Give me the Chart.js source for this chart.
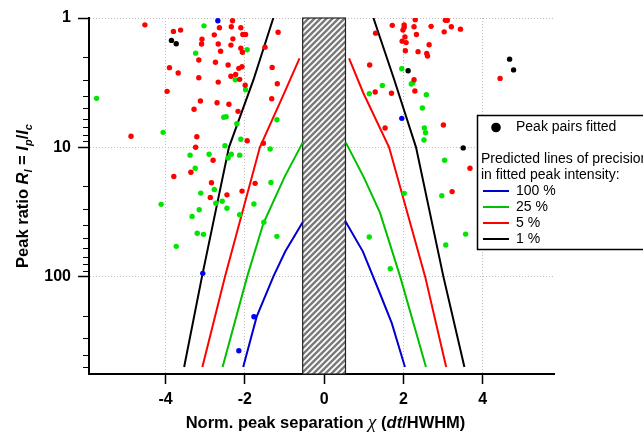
<!DOCTYPE html>
<html>
<head>
<meta charset="utf-8">
<script src="https://cdn.jsdelivr.net/npm/chart.js@4.4.1/dist/chart.umd.min.js"></script>
<style>
  html, body { margin: 0; padding: 0; background: #fff; }
  #wrap { width: 643px; height: 433px; position: relative; }
</style>
</head>
<body>
<div id="wrap"><canvas id="chart"></canvas></div>
<script>
// axis ticks
const xTicks = [-4, -2, 0, 2, 4];
const yTicks = [1, 10, 100];
const yMinorTicks = [2, 3, 4, 5, 6, 7, 8, 9, 20, 30, 40, 50, 60, 70, 80, 90, 200, 300, 400, 500];
const excludedBand = [-0.54, 0.54];

// fitted peak pairs, [chi, ratio]
const redPoints = [
  [-4.52, 1.13], [-4.87, 8.2], [-3.80, 1.27], [-3.62, 1.24], [-3.90, 2.42], [-3.68, 2.66], [-3.96, 3.69], [-3.79, 16.8],
  [-2.31, 1.05], [-2.64, 1.19], [-2.34, 1.17], [-2.10, 1.19], [-2.77, 1.35], [-2.05, 1.34], [-1.98, 1.34], [-3.08, 1.46],
  [-3.09, 1.59], [-2.67, 1.59], [-2.35, 1.62], [-2.30, 1.45], [-2.61, 1.81], [-2.10, 1.71], [-2.06, 1.84], [-1.16, 1.29],
  [-1.49, 1.68], [-3.16, 2.11], [-2.74, 2.20], [-2.42, 2.31], [-2.15, 2.45], [-2.07, 2.38], [-2.35, 2.82], [-2.23, 2.73],
  [-2.13, 2.98], [-3.16, 2.90], [-2.67, 3.13], [-1.99, 3.31], [-1.31, 2.41], [-1.18, 3.22], [-1.32, 4.21], [-3.12, 4.38],
  [-2.70, 4.52], [-2.40, 4.65], [-3.28, 5.08], [-2.17, 5.27], [-3.21, 8.28], [-1.94, 8.89], [-3.24, 10.0], [-1.53, 9.31],
  [-2.80, 12.6], [-3.36, 15.6], [-2.84, 18.8], [-2.07, 21.8], [-1.74, 19.0], [-2.87, 24.4], [-2.45, 23.3],
  [2.30, 1.03], [3.06, 1.04], [3.11, 1.04], [1.72, 1.14], [2.02, 1.13], [2.02, 1.18], [2.27, 1.17], [2.70, 1.16],
  [3.21, 1.17], [3.44, 1.22], [1.99, 1.24], [1.30, 1.31], [2.33, 1.34], [3.03, 1.28], [2.04, 1.40], [1.97, 1.51],
  [2.07, 1.55], [2.65, 1.61], [2.05, 1.79], [2.37, 1.82], [2.59, 1.88], [2.61, 1.97], [1.15, 2.31], [2.27, 3.00],
  [1.29, 3.73], [1.70, 3.82], [2.29, 3.67], [1.54, 7.09], [3.01, 6.72], [3.68, 14.5], [3.23, 22.0], [4.44, 2.93]
];
const greenPoints = [
  [-5.74, 4.18], [-4.06, 7.66], [-3.03, 1.15], [-3.24, 1.87], [-1.94, 1.76], [-2.24, 3.00], [-1.98, 3.59], [-2.53, 5.86],
  [-2.47, 5.80], [-2.20, 6.57], [-2.10, 8.67], [-1.19, 6.12], [-1.36, 10.3], [-1.34, 18.7], [-2.50, 9.72], [-3.38, 11.5],
  [-2.90, 11.3], [-2.42, 12.1], [-2.34, 11.3], [-2.13, 11.5], [-3.25, 14.5], [-2.77, 21.2], [-3.11, 22.6], [-2.73, 27.1],
  [-2.57, 26.1], [-2.45, 29.6], [-1.77, 27.4], [-4.11, 27.6], [-3.15, 30.4], [-3.33, 34.2], [-2.13, 33.2], [-1.52, 38.0],
  [-3.20, 46.2], [-3.04, 47.1], [-3.73, 58.3], [-1.19, 48.8],
  [1.96, 2.47], [1.47, 3.32], [2.20, 3.24], [2.24, 3.17], [1.14, 3.85], [2.58, 3.92], [2.48, 4.97], [2.53, 7.09],
  [2.56, 7.71], [2.52, 8.78], [3.04, 12.6], [2.97, 23.7], [2.02, 22.7], [1.14, 49.4], [1.67, 86.9], [3.07, 57.0], [3.57, 46.9]
];
const bluePoints = [[-2.68, 1.05], [-3.06, 94.3], [-1.77, 204], [-2.15, 374], [1.96, 5.97]];
const blackPoints = [[-3.85, 1.49], [-3.73, 1.58], [2.12, 2.56], [3.51, 10.1], [4.68, 2.08], [4.78, 2.52]];

// predicted precision lines, [chi, ratio]
const line100Left = [[-0.54, 38], [-0.98, 64], [-1.28, 100], [-1.70, 204], [-2.04, 500]];
const line100Right = [[0.53, 37], [0.98, 64], [1.41, 135], [1.71, 230], [2.04, 500]];
const line25Left = [[-0.54, 9.2], [-1.0, 17], [-1.53, 38.7], [-1.94, 100], [-2.56, 500]];
const line25Right = [[0.55, 9.2], [1.0, 17], [1.41, 32], [1.92, 100], [2.57, 500]];
const line5Left = [[-0.62, 2.05], [-1.02, 3.9], [-1.62, 10], [-2.50, 100], [-3.07, 500]];
const line5Right = [[0.63, 2.05], [0.99, 3.8], [1.64, 10], [2.55, 100], [3.08, 500]];
const line1Left = [[-1.28, 1], [-1.78, 3], [-2.40, 10], [-3.08, 100], [-3.53, 500]];
const line1Right = [[1.245, 1], [1.77, 3], [2.32, 10], [3.01, 100], [3.54, 500]];

const lineLabels = ['100 %', '25 %', '5 %', '1 %'];
const lineColors = ['#0000cc', '#00c000', '#ff0000', '#000000'];

const FONT = 'Arial, "Liberation Sans", sans-serif';
const toXY = arr => arr.map(p => ({ x: p[0], y: p[1] }));

function pointSet(pts, color) {
  return { data: toXY(pts), backgroundColor: color, borderWidth: 0, pointRadius: 2.7, showLine: false };
}
function lineSet(pts, color) {
  return { data: toXY(pts), borderColor: color, borderWidth: 2, pointRadius: 0, showLine: true, fill: false };
}

// hatch pattern for the excluded band
function hatchPattern(ctx) {
  const n = 6;
  const c = document.createElement('canvas');
  c.width = n; c.height = n;
  const g = c.getContext('2d');
  g.fillStyle = '#7a7a7a';
  g.fillRect(0, 0, n, n);
  g.strokeStyle = '#ffffff';
  g.lineWidth = 1.8;
  g.beginPath();
  g.moveTo(-1, n + 1); g.lineTo(n + 1, -1);
  g.moveTo(-1, 1); g.lineTo(1, -1);
  g.moveTo(n - 1, n + 1); g.lineTo(n + 1, n - 1);
  g.stroke();
  return ctx.createPattern(c, 'repeat');
}

const bandPlugin = {
  id: 'band',
  beforeDatasetsDraw(chart) {
    const { ctx, chartArea, scales } = chart;
    const x0 = scales.x.getPixelForValue(excludedBand[0]);
    const x1 = scales.x.getPixelForValue(excludedBand[1]);
    ctx.save();
    ctx.fillStyle = hatchPattern(ctx);
    ctx.fillRect(x0, chartArea.top, x1 - x0, chartArea.bottom - chartArea.top);
    ctx.strokeStyle = '#222';
    ctx.lineWidth = 1.2;
    ctx.strokeRect(x0, chartArea.top, x1 - x0, chartArea.bottom - chartArea.top);
    ctx.restore();
  }
};

function drawRuns(ctx, runs, cx, y) {
  let w = 0;
  runs.forEach(r => { ctx.font = r.font; w += ctx.measureText(r.t).width; });
  let x = cx - w / 2;
  runs.forEach(r => {
    ctx.font = r.font;
    ctx.fillText(r.t, x, y + (r.dy || 0));
    x += ctx.measureText(r.t).width;
  });
}

const decorPlugin = {
  id: 'decor',
  afterDraw(chart) {
    const { ctx, chartArea, scales } = chart;
    ctx.save();
    // minor ticks on the ratio axis
    ctx.strokeStyle = '#000';
    ctx.lineWidth = 1;
    ctx.beginPath();
    yMinorTicks.forEach(v => {
      const y = Math.round(scales.y.getPixelForValue(v)) + 0.5;
      ctx.moveTo(chartArea.left - 6, y);
      ctx.lineTo(chartArea.left, y);
    });
    ctx.stroke();

    // axis titles
    ctx.fillStyle = '#000';
    ctx.textBaseline = 'alphabetic';
    const b = 'bold 16.5px ' + FONT, bi = 'italic bold 16.5px ' + FONT, si = 'italic bold 11px ' + FONT;
    drawRuns(ctx, [
      { t: 'Norm. peak separation ', font: b },
      { t: 'χ', font: 'italic 19px "Liberation Serif", "DejaVu Serif", serif' },
      { t: ' (', font: b },
      { t: 'dt', font: bi },
      { t: '/HWHM)', font: b }
    ], (chartArea.left + chartArea.right) / 2 + 4, 428);

    ctx.save();
    ctx.translate(28, (chartArea.top + chartArea.bottom) / 2);
    ctx.rotate(-Math.PI / 2);
    drawRuns(ctx, [
      { t: 'Peak ratio ', font: b },
      { t: 'R', font: bi },
      { t: 'I', font: si, dy: 4 },
      { t: ' = ', font: b },
      { t: 'I', font: bi },
      { t: 'p', font: si, dy: 4 },
      { t: '/', font: b },
      { t: 'I', font: bi },
      { t: 'c', font: si, dy: 4 }
    ], 0, 0);
    ctx.restore();

    // legend box
    ctx.fillStyle = '#fff';
    ctx.fillRect(477, 115, 200, 135);
    ctx.strokeStyle = '#000';
    ctx.lineWidth = 1.5;
    ctx.strokeRect(477.5, 115.5, 200, 134);
    ctx.fillStyle = '#000';
    ctx.beginPath();
    ctx.arc(496, 127.5, 4.8, 0, Math.PI * 2);
    ctx.fill();
    ctx.font = '14px ' + FONT;
    ctx.textBaseline = 'middle';
    ctx.fillText('Peak pairs fitted', 516, 127.5);
    ctx.fillText('Predicted lines of precision', 481, 159);
    ctx.fillText('in fitted peak intensity:', 481, 175);
    lineLabels.forEach((lab, i) => {
      const y = 191 + i * 16;
      ctx.strokeStyle = lineColors[i];
      ctx.lineWidth = 2;
      ctx.beginPath();
      ctx.moveTo(483, y);
      ctx.lineTo(509, y);
      ctx.stroke();
      ctx.fillStyle = '#000';
      ctx.fillText(lab, 516, y);
    });
    ctx.restore();
  }
};

const datasets = [
  pointSet(blackPoints, '#000000'),
  pointSet(bluePoints, '#0000ff'),
  pointSet(redPoints, '#ff0000'),
  pointSet(greenPoints, '#00e600'),
  lineSet(line100Left, lineColors[0]), lineSet(line100Right, lineColors[0]),
  lineSet(line25Left, lineColors[1]), lineSet(line25Right, lineColors[1]),
  lineSet(line5Left, lineColors[2]), lineSet(line5Right, lineColors[2]),
  lineSet(line1Left, lineColors[3]), lineSet(line1Right, lineColors[3])
];

new Chart(document.getElementById('chart'), {
  type: 'scatter',
  data: { datasets: datasets },
  options: {
    responsive: true,
    maintainAspectRatio: false,
    animation: false,
    devicePixelRatio: 1,
    layout: { padding: { top: 18, right: 89, left: 0, bottom: 0 } },
    plugins: { legend: { display: false }, tooltip: { enabled: false } },
    scales: {
      x: {
        type: 'linear',
        min: -5.93,
        max: 5.8,
        afterBuildTicks: s => { s.ticks = xTicks.map(v => ({ value: v })); },
        afterFit: s => { s.height = 59; },
        ticks: { color: '#000', font: { family: FONT, size: 16, weight: 'bold' }, padding: 6, maxRotation: 0 },
        grid: { color: '#bdbdbd', lineWidth: 1, tickLength: 10, tickColor: '#000', tickWidth: 1.5, tickBorderDash: [] },
        border: { color: '#000', width: 2, dash: [1, 2] }
      },
      y: {
        type: 'logarithmic',
        reverse: true,
        min: 1,
        max: 566,
        afterBuildTicks: s => { s.ticks = yTicks.map(v => ({ value: v })); },
        afterFit: s => { s.width = 89; },
        ticks: { color: '#000', font: { family: FONT, size: 16, weight: 'bold' }, padding: 7, callback: v => String(v) },
        grid: { color: '#bdbdbd', lineWidth: 1, tickLength: 11, tickColor: '#000', tickWidth: 1.5, tickBorderDash: [] },
        border: { color: '#000', width: 2, dash: [1, 2] }
      }
    }
  },
  plugins: [bandPlugin, decorPlugin]
});
</script>
</body>
</html>
